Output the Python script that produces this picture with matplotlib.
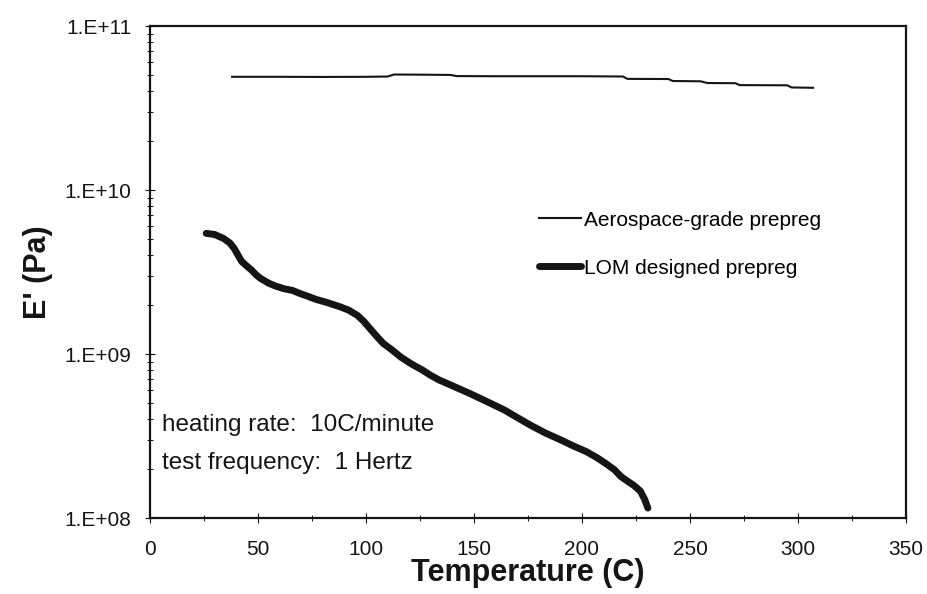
import matplotlib
matplotlib.use("Agg")
import matplotlib.pyplot as plt
from matplotlib.ticker import LogLocator, MultipleLocator, NullFormatter

plt.rcParams['font.family'] = ['Liberation Sans', 'DejaVu Sans']

# ---- data ----
aero_T = [38, 60, 80, 100, 110, 113, 125, 139, 142, 160, 180, 200, 219, 221, 240, 242,
          255, 258, 271, 273, 295, 297, 307]
aero_E = [4.90e10, 4.90e10, 4.89e10, 4.90e10, 4.92e10, 5.06e10, 5.05e10, 5.03e10, 4.95e10,
          4.94e10, 4.94e10, 4.94e10, 4.92e10, 4.76e10, 4.75e10, 4.62e10, 4.60e10, 4.49e10,
          4.48e10, 4.36e10, 4.35e10, 4.22e10, 4.20e10]

lom_T = [26, 30, 34, 37, 39, 41, 42.5, 45, 47, 49, 51, 55, 58, 62, 66, 69, 73, 77, 82,
         88, 92, 96, 99, 102, 105, 108, 112, 116, 121, 126, 130, 134, 140, 148, 155,
         164, 170, 176, 183, 190, 196, 202, 207, 211, 215, 218, 221, 224, 227, 229, 230.5]
lom_E = [5.44e9, 5.35e9, 5.07e9, 4.75e9, 4.40e9, 3.95e9, 3.66e9, 3.42e9, 3.25e9, 3.05e9,
         2.90e9, 2.70e9, 2.60e9, 2.50e9, 2.44e9, 2.35e9, 2.25e9, 2.15e9, 2.06e9,
         1.94e9, 1.85e9, 1.72e9, 1.58e9, 1.42e9, 1.28e9, 1.16e9, 1.06e9, 9.6e8, 8.7e8,
         8.0e8, 7.4e8, 6.93e8, 6.4e8, 5.75e8, 5.2e8, 4.56e8, 4.1e8, 3.69e8, 3.3e8,
         3.0e8, 2.75e8, 2.54e8, 2.33e8, 2.15e8, 1.97e8, 1.79e8, 1.68e8, 1.58e8, 1.46e8,
         1.30e8, 1.15e8]

ytick_vals = [1e8, 1e9, 1e10, 1e11]
ytick_labels = ['1.E+08', '1.E+09', '1.E+10', '1.E+11']
series_labels = ['Aerospace-grade prepreg', 'LOM designed prepreg']
note_lines = ['heating rate:  10C/minute', 'test frequency:  1 Hertz']

# ---- figure ----
fig = plt.figure(figsize=(9.28, 5.94), dpi=100)
ax = fig.add_axes([150/928, 1-518/594, (906-150)/928, (518-26)/594])

ink = '#151515'
ax.plot(aero_T, aero_E, color=ink, lw=1.5, label=series_labels[0])
ax.plot(lom_T, lom_E, color=ink, lw=5.0, solid_capstyle='round', label=series_labels[1])

ax.set_yscale('log')
ax.set_xlim(0, 350)
ax.set_ylim(1e8, 1e11)
ax.set_yticks(ytick_vals)
ax.set_yticklabels(ytick_labels)
ax.yaxis.set_minor_locator(LogLocator(base=10, subs=range(2, 10)))
ax.yaxis.set_minor_formatter(NullFormatter())
ax.xaxis.set_major_locator(MultipleLocator(50))
ax.xaxis.set_minor_locator(MultipleLocator(25))

ax.tick_params(axis='both', which='major', direction='inout', length=7, width=0.8,
               labelsize=15, colors=ink)
ax.tick_params(axis='both', which='minor', direction='inout', length=4, width=0.7,
               colors=ink)
ax.tick_params(axis='y', which='major', pad=10)
ax.tick_params(axis='x', which='major', pad=12)

for s in ax.spines.values():
    s.set_linewidth(1.6)
    s.set_color(ink)

ax.set_xlabel('Temperature (C)', fontsize=22, fontweight='bold', color=ink)
ax.set_ylabel("E' (Pa)", fontsize=22, fontweight='bold', color=ink)
ax.xaxis.set_label_coords(0.5, -0.082)
ax.yaxis.set_label_coords(-0.128, 0.5)

ax.text(0.016, 0.189, note_lines[0], transform=ax.transAxes, fontsize=17.5,
        va='center', ha='left', color=ink)
ax.text(0.016, 0.112, note_lines[1], transform=ax.transAxes, fontsize=17.5,
        va='center', ha='left', color=ink)

ax.legend(loc='upper left', bbox_to_anchor=(0.515, 0.625), frameon=False,
          fontsize=15, handlelength=2.0, handletextpad=0.15, labelspacing=1.4,
          borderaxespad=0, borderpad=0)

fig.savefig('out.png', dpi=100)
